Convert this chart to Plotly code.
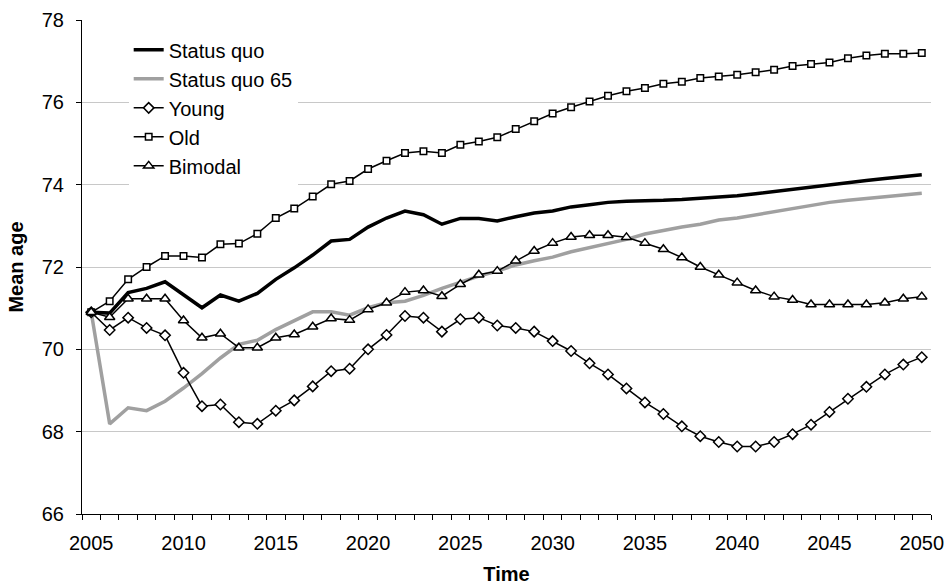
import plotly.graph_objects as go

years = list(range(2005, 2051))

status_quo = [70.90, 70.88, 71.38, 71.48, 71.64, 71.32, 71.01, 71.32, 71.17, 71.36,
              71.70, 71.98, 72.29, 72.63, 72.67, 72.97, 73.19, 73.36, 73.27, 73.04,
              73.18, 73.18, 73.12, 73.22, 73.31, 73.36, 73.46, 73.51, 73.57, 73.60,
              73.60, 73.62, 73.64, 73.67, 73.68, 73.73, 73.78, 73.83, 73.89, 73.95,
              74.00, 74.05, 74.10, 74.15, 74.20, 74.24]

status_quo_65 = [70.90, 68.19, 68.58, 68.51, 68.74, 69.06, 69.41, 69.79, 70.12, 70.22,
                 70.48, 70.69, 70.91, 70.91, 70.83, 71.01, 71.13, 71.17, 71.31, 71.48,
                 71.63, 71.78, 71.90, 72.05, 72.15, 72.24, 72.37, 72.47, 72.57, 72.67,
                 72.80, 72.89, 72.97, 73.04, 73.14, 73.19, 73.27, 73.34, 73.42, 73.49,
                 73.57, 73.62, 73.67, 73.71, 73.75, 73.79]

young = [70.90, 70.47, 70.77, 70.52, 70.34, 69.43, 68.62, 68.66, 68.23, 68.19,
         68.51, 68.76, 69.10, 69.47, 69.53, 70.00, 70.35, 70.81, 70.77, 70.43,
         70.73, 70.77, 70.58, 70.52, 70.43, 70.20, 69.96, 69.66, 69.39, 69.05,
         68.71, 68.43, 68.13, 67.89, 67.75, 67.64, 67.64, 67.75, 67.94, 68.17,
         68.48, 68.80, 69.09, 69.39, 69.63, 69.81]

old = [70.90, 71.17, 71.70, 72.00, 72.27, 72.27, 72.23, 72.55, 72.57, 72.81,
       73.19, 73.42, 73.71, 74.01, 74.09, 74.38, 74.58, 74.77, 74.81, 74.77,
       74.97, 75.05, 75.15, 75.35, 75.54, 75.73, 75.88, 76.02, 76.16, 76.27,
       76.35, 76.45, 76.50, 76.59, 76.63, 76.67, 76.73, 76.79, 76.88, 76.93,
       76.97, 77.07, 77.14, 77.18, 77.18, 77.20]

bimodal = [70.90, 70.78, 71.23, 71.23, 71.23, 70.70, 70.28, 70.38, 70.04, 70.04,
           70.28, 70.36, 70.55, 70.75, 70.71, 70.97, 71.13, 71.39, 71.43, 71.29,
           71.58, 71.81, 71.90, 72.15, 72.39, 72.58, 72.73, 72.77, 72.77, 72.72,
           72.58, 72.43, 72.23, 72.00, 71.81, 71.62, 71.43, 71.28, 71.20, 71.09,
           71.09, 71.09, 71.09, 71.13, 71.23, 71.28]

x_tick_years = list(range(2005, 2051, 5))
y_ticks = [66, 68, 70, 72, 74, 76, 78]

FONT = "Liberation Sans, Arial, sans-serif"

fig = go.Figure()

fig.add_trace(go.Scatter(x=years, y=status_quo, name="Status quo", mode="lines",
                         line=dict(color="#000000", width=3.5)))
fig.add_trace(go.Scatter(x=years, y=status_quo_65, name="Status quo 65", mode="lines",
                         line=dict(color="#a0a0a0", width=3.5)))
fig.add_trace(go.Scatter(x=years, y=young, name="Young", mode="lines+markers",
                         line=dict(color="#000000", width=1.5),
                         marker=dict(symbol="diamond", size=8, color="#ffffff",
                                     line=dict(color="#000000", width=1.5))))
fig.add_trace(go.Scatter(x=years, y=old, name="Old", mode="lines+markers",
                         line=dict(color="#000000", width=1.5),
                         marker=dict(symbol="square", size=6.5, color="#ffffff",
                                     line=dict(color="#000000", width=1.5))))
fig.add_trace(go.Scatter(x=years, y=bimodal, name="Bimodal", mode="lines+markers",
                         line=dict(color="#000000", width=1.5),
                         marker=dict(symbol="triangle-up", size=9, color="#ffffff",
                                     line=dict(color="#000000", width=1.5))))

fig.update_layout(
    width=945, height=587,
    margin=dict(l=81.5, r=14.3, t=19.5, b=73, pad=0, autoexpand=False),
    paper_bgcolor="#ffffff", plot_bgcolor="#ffffff",
    font=dict(family=FONT, size=20, color="#000000"),
    showlegend=True,
    legend=dict(x=0.055, y=0.979, xanchor="left", yanchor="top",
                bgcolor="#ffffff", borderwidth=0,
                font=dict(family=FONT, size=20, color="#000000"),
                itemwidth=30, tracegroupgap=0),
)

fig.update_xaxes(
    range=[2004.5, 2050.5], automargin=False,
    tickmode="array", tickvals=x_tick_years,
    ticktext=[str(v) for v in x_tick_years],
    ticks="", showgrid=False, zeroline=False,
    showline=True, linecolor="#000000", linewidth=1,
    tickfont=dict(family=FONT, size=20),
    ticklabelstandoff=11,
    minor=dict(ticks="outside", tick0=2004.5, dtick=1, ticklen=5,
               tickcolor="#000000", tickwidth=1, showgrid=False),
    title=dict(text="<b>Time</b>", font=dict(family=FONT, size=20), standoff=13),
)

fig.update_yaxes(
    range=[66, 78], automargin=False,
    tickmode="array", tickvals=y_ticks,
    ticks="outside", ticklen=5, tickcolor="#000000", tickwidth=1,
    showgrid=True, gridcolor="#c8c8c8", gridwidth=1, zeroline=False,
    showline=True, linecolor="#000000", linewidth=1,
    tickfont=dict(family=FONT, size=20),
    ticklabelstandoff=8,
    title=dict(text="<b>Mean age</b>", font=dict(family=FONT, size=20), standoff=12),
)

fig.write_html("out.html")
